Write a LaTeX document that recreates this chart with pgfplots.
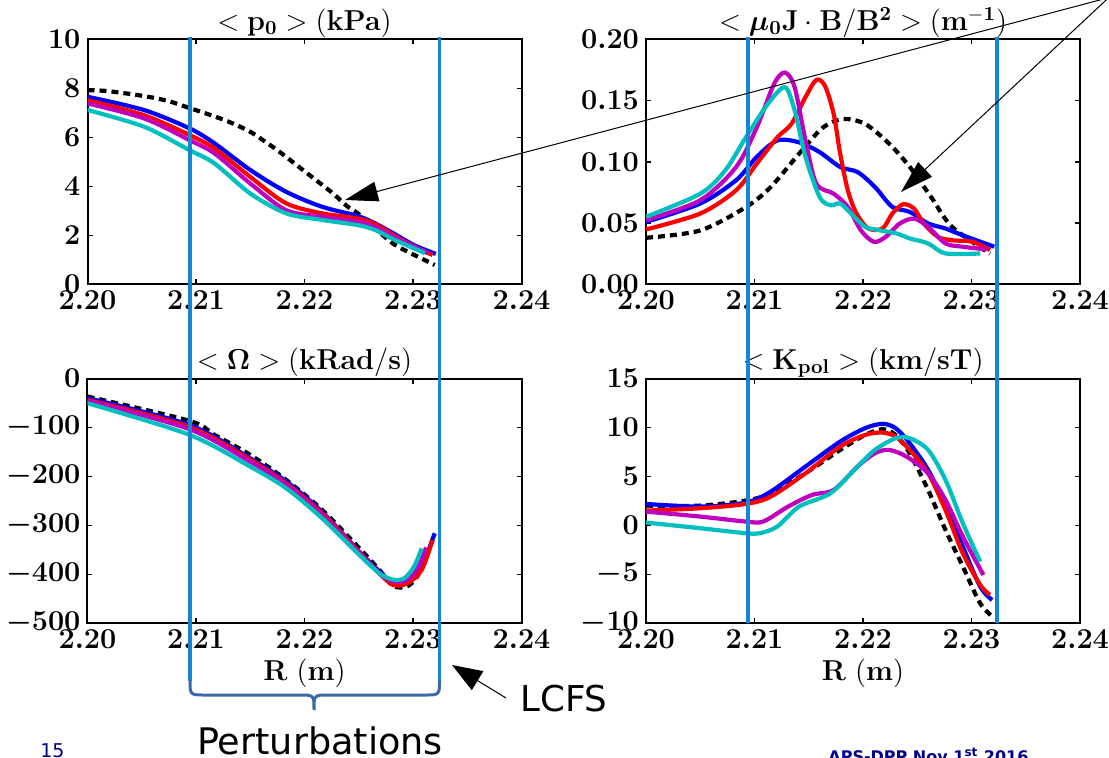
\documentclass[border=0pt]{standalone}
\usepackage[no-math]{fontspec}
\usepackage{bm}
\usepackage{pgfplots}
\pgfplotsset{compat=1.18}
\usetikzlibrary{arrows.meta}
\newfontfamily\djv{DejaVu Sans}
\definecolor{lcfsblue}{RGB}{20,135,212}
\definecolor{bracecol}{RGB}{60,105,170}
\definecolor{mplm}{rgb}{0.75,0,0.75}
\definecolor{mplc}{rgb}{0,0.75,0.75}
\definecolor{navy}{RGB}{0,0,140}
\pgfplotsset{
  panel/.style={
    scale only axis, width=217pt, height=122.4pt,
    xmin=2.2, xmax=2.24, xtick={2.2,2.21,2.22,2.23,2.24},
    scaled x ticks=false, scaled y ticks=false,
    x tick label style={/pgf/number format/.cd,fixed,fixed zerofill,precision=2,/tikz/.cd},
    tick label style={font=\fontsize{13.8}{16}\selectfont\boldmath},
    major tick length=2.5pt, tick style={black, line width=0.8pt},
    axis line style={line width=1pt},
    title style={font=\fontsize{14}{16}\selectfont, at={(0.5,1)}, anchor=base, yshift=-1.5pt},
    xlabel style={font=\fontsize{13.8}{16}\selectfont, at={(0.5,0)}, anchor=base, yshift=-28.5pt},
    every axis plot/.append style={line width=2.1pt, smooth, tension=0.5},
  },
  kd/.style={black, dash pattern=on 3.5pt off 2.5pt},
}
\begin{document}
\begin{tikzpicture}
\useasboundingbox (0,0) rectangle (554.5pt,378.5pt);
% ---------- top left ----------
\begin{axis}[panel, at={(43.75pt,236.35pt)}, anchor=south west,
  ymin=0, ymax=10, ytick={0,2,4,6,8,10},
  title={$\mathbf{<p_0>(kPa)}$}]
\addplot[kd] coordinates {(2.2000,7.93)(2.2019,7.89)(2.2052,7.69)(2.2075,7.48)(2.2094,7.20)(2.2117,6.86)(2.2134,6.57)(2.2150,6.23)(2.2163,5.85)(2.2177,5.41)(2.2193,4.86)(2.2209,4.31)(2.2226,3.72)(2.2239,3.20)(2.2249,2.90)(2.2265,2.29)(2.2282,1.65)(2.2298,1.27)(2.2320,0.79)};
\addplot[blue] coordinates {(2.2000,7.66)(2.2052,7.12)(2.2094,6.37)(2.2117,5.76)(2.2150,4.67)(2.2183,3.78)(2.2216,3.17)(2.2249,2.79)(2.2265,2.49)(2.2282,2.08)(2.2301,1.60)(2.2321,1.24)};
\addplot[red] coordinates {(2.2000,7.52)(2.2052,6.91)(2.2094,6.10)(2.2117,5.55)(2.2150,4.39)(2.2183,3.31)(2.2216,2.90)(2.2249,2.69)(2.2265,2.46)(2.2282,2.01)(2.2301,1.54)(2.2318,1.20)};
\addplot[mplm] coordinates {(2.2000,7.39)(2.2052,6.78)(2.2094,5.89)(2.2117,5.35)(2.2150,4.12)(2.2183,3.03)(2.2216,2.76)(2.2249,2.56)(2.2265,2.35)(2.2282,1.95)(2.2314,1.27)};
\addplot[mplc] coordinates {(2.2000,7.12)(2.2052,6.44)(2.2094,5.48)(2.2117,4.94)(2.2150,3.71)(2.2183,2.90)(2.2216,2.63)(2.2249,2.42)(2.2265,2.22)(2.2282,1.84)(2.2311,1.27)};
\end{axis}
% ---------- top right ----------
\begin{axis}[panel, at={(323pt,236.35pt)}, anchor=south west,
  ymin=0, ymax=0.2, ytick={0,0.05,0.1,0.15,0.2},
  y tick label style={/pgf/number format/.cd,fixed,fixed zerofill,precision=2,/tikz/.cd},
  title={$<\bm{\mu}_{\mathbf{0}}\mathbf{J\cdot B/B^2}>(\mathbf{m^{-1}})$}]
\addplot[kd] coordinates {(2.2000,0.038)(2.2050,0.044)(2.2092,0.063)(2.2115,0.0795)(2.2141,0.1066)(2.2163,0.128)(2.2182,0.135)(2.2202,0.131)(2.2224,0.115)(2.2243,0.096)(2.2263,0.071)(2.2282,0.047)(2.2317,0.025)};
\addplot[blue] coordinates {(2.2000,0.051)(2.2050,0.066)(2.2083,0.085)(2.2102,0.104)(2.2121,0.1175)(2.2141,0.116)(2.2160,0.108)(2.2179,0.0958)(2.2195,0.0917)(2.2211,0.0795)(2.2227,0.0632)(2.2243,0.0592)(2.2260,0.0497)(2.2276,0.0456)(2.2292,0.040)(2.2321,0.0307)};
\addplot[red] coordinates {(2.2000,0.0448)(2.2050,0.0578)(2.2083,0.0768)(2.2102,0.0985)(2.2121,0.120)(2.2134,0.131)(2.2147,0.153)(2.2157,0.167)(2.2165,0.162)(2.2173,0.139)(2.2179,0.1066)(2.2186,0.0768)(2.2194,0.0578)(2.2205,0.0456)(2.2218,0.0456)(2.2227,0.0578)(2.2237,0.0654)(2.2247,0.0619)(2.2256,0.0497)(2.2269,0.0388)(2.2282,0.036)(2.2301,0.0347)(2.2317,0.028)};
\addplot[mplm] coordinates {(2.2000,0.0524)(2.2050,0.0687)(2.2083,0.0958)(2.2102,0.128)(2.2118,0.1636)(2.2128,0.173)(2.2137,0.161)(2.2147,0.1175)(2.2157,0.0822)(2.2173,0.074)(2.2186,0.0632)(2.2198,0.0442)(2.2210,0.0347)(2.2221,0.0388)(2.2234,0.0497)(2.2247,0.0537)(2.2260,0.047)(2.2276,0.0334)(2.2292,0.0307)(2.2314,0.0285)};
\addplot[mplc] coordinates {(2.2000,0.0551)(2.2050,0.074)(2.2073,0.093)(2.2092,0.120)(2.2112,0.147)(2.2128,0.161)(2.2137,0.142)(2.2147,0.104)(2.2160,0.0714)(2.2170,0.0646)(2.2179,0.066)(2.2189,0.0578)(2.2202,0.047)(2.2215,0.0442)(2.2231,0.0415)(2.2243,0.0375)(2.2260,0.0334)(2.2276,0.0252)(2.2308,0.0252)};
\end{axis}
% ---------- bottom left ----------
\begin{axis}[panel, at={(43.75pt,66.85pt)}, anchor=south west,
  ymin=-500, ymax=0, ytick={-500,-400,-300,-200,-100,0},
  title={$<\mathbf{\Omega}>(\mathbf{kRad/s})$}, xlabel={$\mathbf{R\ (m)}$}]
\addplot[kd] coordinates {(2.2000,-36.8)(2.2094,-86.5)(2.2117,-115)(2.2150,-156)(2.2183,-207)(2.2216,-268)(2.2249,-343)(2.2269,-391)(2.2282,-424)(2.2295,-424)(2.2305,-400)(2.2318,-330)};
\addplot[blue] coordinates {(2.2000,-40)(2.2094,-95)(2.2150,-163)(2.2183,-210)(2.2216,-272)(2.2249,-350)(2.2269,-394)(2.2282,-418)(2.2295,-418)(2.2308,-384)(2.2320,-316)};
\addplot[red] coordinates {(2.2000,-43.6)(2.2094,-99)(2.2150,-166)(2.2183,-214)(2.2216,-275)(2.2249,-351)(2.2269,-398)(2.2282,-422)(2.2295,-418)(2.2308,-391)(2.2318,-330)};
\addplot[mplm] coordinates {(2.2000,-45.6)(2.2094,-103.5)(2.2150,-170)(2.2183,-217)(2.2216,-279)(2.2249,-353)(2.2269,-398)(2.2282,-415)(2.2295,-411)(2.2305,-385)(2.2312,-345)};
\addplot[mplc] coordinates {(2.2000,-50.4)(2.2094,-115)(2.2150,-180)(2.2183,-224)(2.2216,-285)(2.2249,-357)(2.2269,-398)(2.2282,-411)(2.2292,-408)(2.2301,-384)(2.2308,-347)};
\end{axis}
% ---------- bottom right ----------
\begin{axis}[panel, at={(323pt,66.85pt)}, anchor=south west,
  ymin=-10, ymax=15, ytick={-10,-5,0,5,10,15},
  title={$\mathbf{<K_{pol}>(km/sT)}$}, xlabel={$\mathbf{R\ (m)}$}]
\addplot[kd] coordinates {(2.2000,2.02)(2.2050,2.02)(2.2092,2.53)(2.2115,3.28)(2.2147,5.33)(2.2179,7.71)(2.2202,9.24)(2.2218,9.82)(2.2230,9.24)(2.2243,7.37)(2.2260,3.62)(2.2276,-0.46)(2.2292,-4.2)(2.2308,-7.96)(2.2321,-9.49)};
\addplot[blue] coordinates {(2.2000,2.19)(2.2050,1.92)(2.2092,2.33)(2.2115,3.45)(2.2147,6.01)(2.2179,8.56)(2.2202,9.93)(2.2218,10.37)(2.2230,9.93)(2.2243,8.39)(2.2260,5.67)(2.2276,1.92)(2.2292,-2.17)(2.2308,-6.25)(2.2319,-7.62)};
\addplot[red] coordinates {(2.2000,1.51)(2.2050,1.75)(2.2092,2.19)(2.2115,2.94)(2.2147,5.33)(2.2179,8.05)(2.2202,9.24)(2.2218,9.48)(2.2230,9.07)(2.2243,7.71)(2.2260,5.33)(2.2276,1.58)(2.2292,-2.85)(2.2308,-6.08)(2.2317,-7.1)};
\addplot[mplm] coordinates {(2.2000,1.41)(2.2050,0.9)(2.2092,0.39)(2.2108,0.39)(2.2131,1.92)(2.2153,3.11)(2.2173,3.62)(2.2195,6.01)(2.2211,7.37)(2.2224,7.71)(2.2240,7.03)(2.2260,5.33)(2.2276,2.6)(2.2292,-1.14)(2.2311,-5.06)};
\addplot[mplc] coordinates {(2.2000,0.29)(2.2050,-0.29)(2.2092,-0.8)(2.2105,-0.8)(2.2121,-0.12)(2.2141,1.92)(2.2170,3.28)(2.2195,6.01)(2.2211,7.71)(2.2230,8.9)(2.2243,8.9)(2.2260,7.71)(2.2276,4.65)(2.2292,0.22)(2.2308,-3.7)};
\end{axis}
% ---------- annotations (pixel coordinates, y downwards) ----------
\begin{scope}[x=0.5pt,y=-0.5pt,shift={(0pt,378.5pt)}]
\draw[lcfsblue, line width=1.6pt] (190,37) -- (190,681) (439.5,37) -- (439.5,681)
  (748,37) -- (748,622.5) (997,37) -- (997,623);
\draw[bracecol, line width=1.5pt] (190,680) .. controls (190,695) and (190,695) .. (205,695) -- (299,695)
  .. controls (314,695) and (314,695) .. (314,710)
  .. controls (314,695) and (314,695) .. (329,695) -- (424.5,695)
  .. controls (439.5,695) and (439.5,695) .. (439.5,680);
\draw[line width=0.5pt, -{Triangle[length=16.5pt,width=10pt]}] (1130,-8) -- (345,200);
\draw[line width=0.5pt, -{Triangle[length=16.5pt,width=10pt]}] (1120,-13) -- (901,192);
\draw[line width=0.5pt, -{Triangle[length=15pt,width=11pt]}] (506,698) -- (452,665);
\node[anchor=base west, inner sep=0pt, font=\djv\fontsize{17.8}{20}\selectfont] at (520,711) {LCFS};
\node[anchor=base, inner sep=0pt, font=\djv\fontsize{18.3}{20}\selectfont] at (320,754) {Perturbations};
\node[anchor=base west, inner sep=0pt, text=navy, font=\djv\fontsize{9.5}{11}\selectfont] at (40,757.5) {15};
\node[anchor=base west, inner sep=0pt, text=navy, font=\djv\bfseries\fontsize{8}{10}\selectfont] at (828,762) {APS-DPP Nov 1\textsuperscript{st} 2016};
\end{scope}
\end{tikzpicture}
\end{document}
